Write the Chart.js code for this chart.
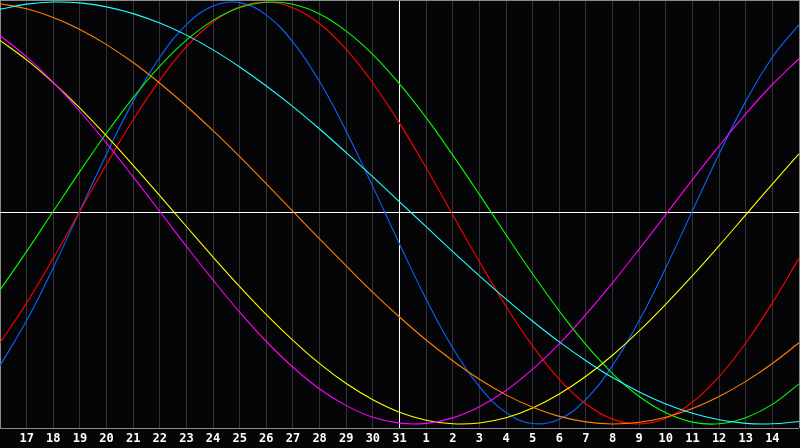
<!DOCTYPE html>
<html>
<head>
<meta charset="utf-8">
<script src="https://cdn.jsdelivr.net/npm/chart.js@4"></script>
<style>
  html, body { margin: 0; padding: 0; background: #050507; }
  canvas { display: block; }
</style>
</head>
<body>
<canvas id="chart" width="800" height="448"></canvas>
<script>
  // Day labels (first and last are edge days, not printed)
  const days = ['16','17','18','19','20','21','22','23','24','25','26','27','28','29','30','31',
                '1','2','3','4','5','6','7','8','9','10','11','12','13','14','15'];

  // Curve values, one per day
  const blueVals = [-0.723,-0.510,-0.259,0.011,0.280,0.529,0.738,0.893,0.981,0.997,0.938,0.810,0.623,0.388,0.125,
    -0.147,-0.408,-0.640,-0.823,-0.946,-0.998,-0.977,-0.883,-0.723,-0.510,-0.259,0.011,0.280,0.529,0.738,0.893];
  const redVals = [-0.616,-0.426,-0.214,0.009,0.231,0.442,0.630,0.788,0.905,0.977,1.000,0.973,0.897,0.776,0.616,
    0.426,0.214,-0.009,-0.231,-0.442,-0.630,-0.788,-0.905,-0.977,-1.000,-0.973,-0.897,-0.776,-0.616,-0.426,-0.214];
  const greenVals = [-0.365,-0.182,0.008,0.197,0.379,0.547,0.696,0.819,0.913,0.974,0.999,0.989,0.943,0.862,0.751,
    0.612,0.452,0.274,0.088,-0.103,-0.289,-0.465,-0.624,-0.761,-0.870,-0.947,-0.991,-0.999,-0.970,-0.907,-0.810];
  const cyanVals = [0.966,0.990,1.000,0.996,0.977,0.945,0.900,0.843,0.773,0.692,0.602,0.504,0.398,0.286,0.171,
    0.053,-0.065,-0.183,-0.298,-0.408,-0.513,-0.611,-0.700,-0.780,-0.848,-0.905,-0.949,-0.980,-0.997,-0.999,-0.988];
  const orangeVals = [0.992,0.968,0.927,0.870,0.798,0.713,0.615,0.507,0.390,0.267,0.138,0.008,-0.123,-0.251,-0.376,
    -0.493,-0.602,-0.700,-0.788,-0.862,-0.921,-0.964,-0.990,-1.000,-0.992,-0.968,-0.927,-0.870,-0.798,-0.713,-0.615];
  const magentaVals = [0.841,0.740,0.619,0.481,0.331,0.171,0.007,-0.158,-0.318,-0.470,-0.609,-0.731,-0.834,-0.913,-0.968,
    -0.996,-0.997,-0.971,-0.918,-0.841,-0.740,-0.620,-0.481,-0.331,-0.171,-0.007,0.158,0.318,0.470,0.609,0.731];
  const yellowVals = [0.818,0.726,0.618,0.497,0.365,0.226,0.082,-0.064,-0.209,-0.349,-0.482,-0.604,-0.714,-0.808,-0.885,
    -0.944,-0.982,-0.999,-0.995,-0.970,-0.924,-0.858,-0.774,-0.674,-0.559,-0.432,-0.297,-0.155,-0.009,0.137,0.280];

  const yMin = -1.019;
  const yMax = 1.0095;

  function line(data, color) {
    return { data: data, borderColor: color, borderWidth: 1.1, pointRadius: 0, fill: false, tension: 0.4 };
  }

  new Chart(document.getElementById('chart'), {
    type: 'line',
    data: {
      labels: days,
      datasets: [
        line(cyanVals, '#20ffff'),
        line(orangeVals, '#ff8000'),
        line(magentaVals, '#ff00ff'),
        line(yellowVals, '#ffff00'),
        line(greenVals, '#00ff00'),
        line(redVals, '#ff0000'),
        line(blueVals, '#0a64ff')
      ]
    },
    options: {
      responsive: false,
      animation: false,
      layout: { autoPadding: false, padding: { left: 0, top: 0, right: 1, bottom: 0 } },
      plugins: { legend: { display: false }, tooltip: { enabled: false } },
      scales: {
        x: {
          offset: false,
          border: { display: false },
          afterFit: scale => { scale.height = 20; scale.paddingLeft = 0; scale.paddingRight = 0; },
          grid: {
            drawTicks: false,
            color: ctx => ctx.index === 15 ? '#ffffff' : (ctx.index === 0 || ctx.index === days.length - 1 ? '#8a8a8a' : '#333336')
          },
          ticks: {
            color: '#ffffff',
            autoSkip: false,
            maxRotation: 0,
            padding: 4,
            font: { family: 'DejaVu Sans Mono', weight: 'bold', size: 12 },
            callback: (v, i) => (i === 0 || i === days.length - 1) ? '' : days[i]
          }
        },
        y: {
          min: yMin,
          max: yMax,
          border: { display: false },
          afterBuildTicks: scale => { scale.ticks = [{ value: yMin }, { value: 0 }, { value: yMax }]; },
          afterFit: scale => { scale.width = 0; },
          grid: {
            drawTicks: false,
            color: ctx => ctx.tick && ctx.tick.value === 0 ? '#ffffff' : '#8a8a8a'
          },
          ticks: { display: false }
        }
      }
    }
  });
</script>
</body>
</html>
